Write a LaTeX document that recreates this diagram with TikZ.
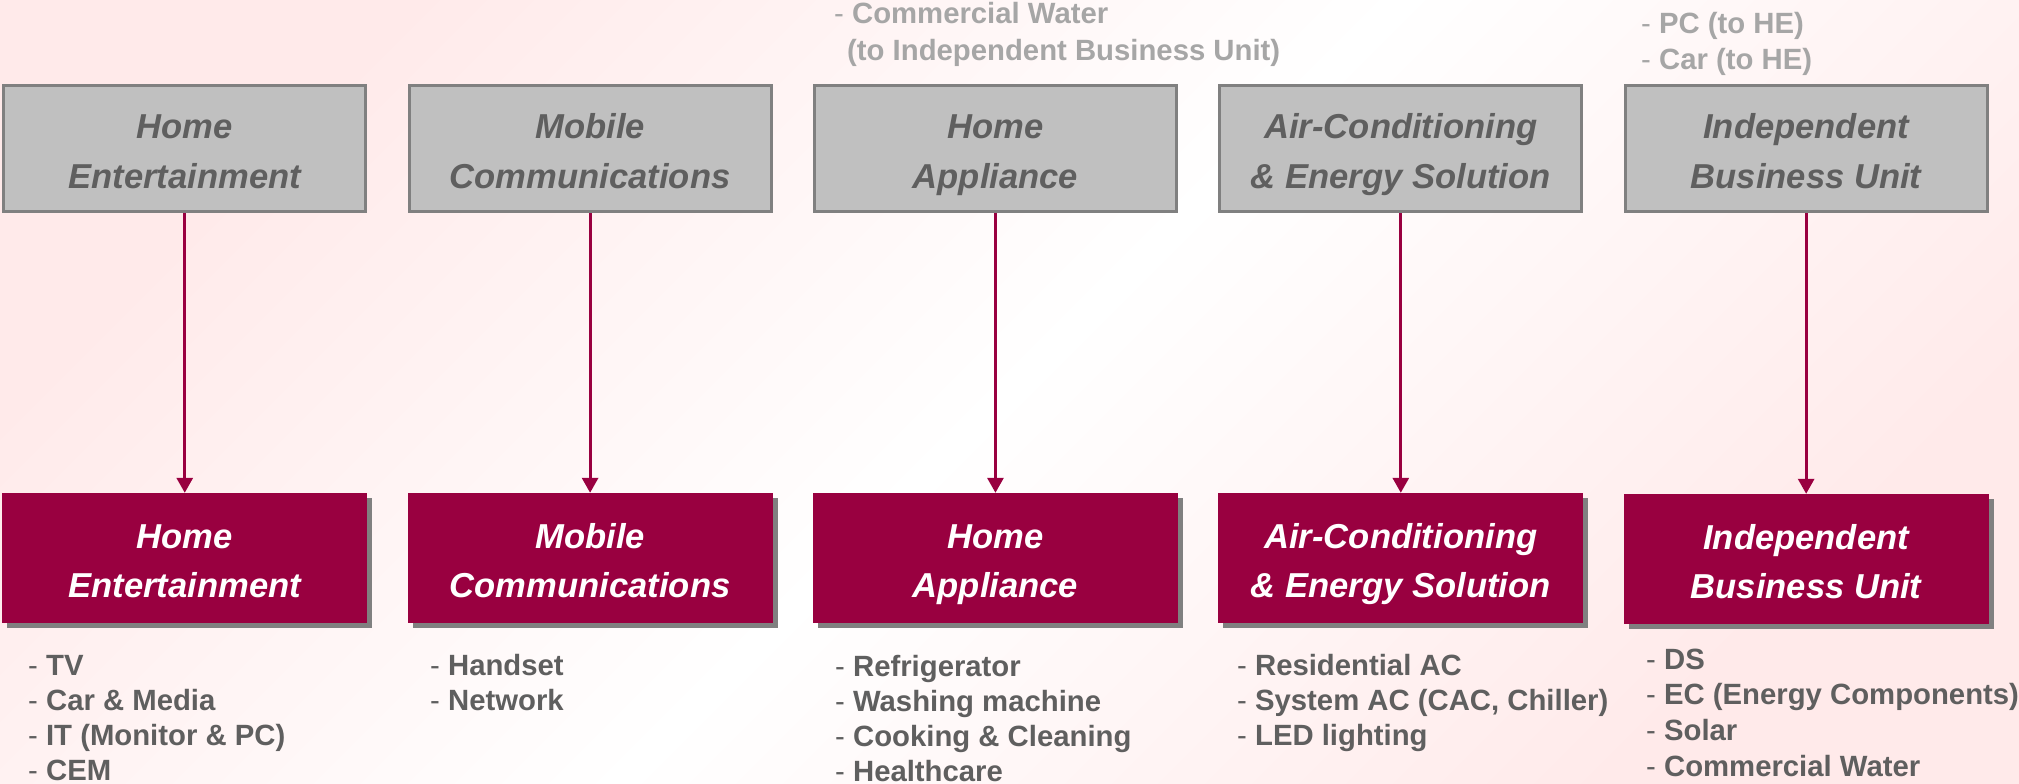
\documentclass[tikz,border=0pt]{standalone}
\usepackage{fontspec}
\setmainfont{Liberation Sans}
\usetikzlibrary{shadows,arrows.meta}
\definecolor{crim}{RGB}{153,0,64}
\definecolor{boxgray}{RGB}{192,192,192}
\definecolor{bordergray}{RGB}{128,128,128}
\definecolor{txtgray}{RGB}{95,95,95}
\definecolor{notegray}{RGB}{166,166,166}
\definecolor{bgpink}{RGB}{255,234,234}
\newcommand\hstrut{\rule{0pt}{37.5pt}}
\newcommand\dstrut{\rule[-8pt]{0pt}{8pt}}
\newcommand\twolines[2]{\hstrut#1\\#2\dstrut}
\begin{document}
\begin{tikzpicture}[x=1pt,y=-1pt,
  topbox/.style={draw=bordergray, line width=3pt, fill=boxgray, minimum width=362pt, minimum height=126pt, inner sep=0pt, align=center, text=txtgray, font=\fontsize{34.6}{50}\selectfont\bfseries\itshape},
  botbox/.style={fill=crim, minimum width=365pt, minimum height=130pt, inner sep=0pt, align=center, text=white, font=\fontsize{34.6}{49}\selectfont\bfseries\itshape, drop shadow={shadow xshift=5pt, shadow yshift=-5pt, fill=bordergray, opacity=1}},
  conn/.style={draw=crim, line width=3pt, -{Triangle[length=15pt,width=16pt]}},
  item/.style={anchor=base west, inner sep=0pt, text=txtgray, font=\fontsize{29.3}{35}\selectfont},
  note/.style={item, text=notegray}
]
\useasboundingbox (0,0) rectangle (2019,784);
\shade[top color=bgpink, bottom color=bgpink, middle color=white, shading angle=45] (0,0) rectangle (2019,784);

% top boxes
\node[topbox] (t1) at (184.75,148.5) {\twolines{Home}{Entertainment}};
\node[topbox] (t2) at (590.1,148.5) {\twolines{Mobile}{Communications}};
\node[topbox] (t3) at (995.45,148.5) {\twolines{Home}{Appliance}};
\node[topbox] (t4) at (1400.8,148.5) {\twolines{Air-Conditioning}{\& Energy Solution}};
\node[topbox] (t5) at (1806.15,148.5) {\twolines{Independent}{Business Unit}};

% bottom boxes
\node[botbox] (b1) at (184.75,558) {\twolines{Home}{Entertainment}};
\node[botbox] (b2) at (590.1,558) {\twolines{Mobile}{Communications}};
\node[botbox] (b3) at (995.45,558) {\twolines{Home}{Appliance}};
\node[botbox] (b4) at (1400.8,558) {\twolines{Air-Conditioning}{\& Energy Solution}};
\node[botbox] (b5) at (1806.15,559) {\twolines{Independent}{Business Unit}};

% connectors
\draw[conn] (t1.south) -- (b1.north);
\draw[conn] (t2.south) -- (b2.north);
\draw[conn] (t3.south) -- (b3.north);
\draw[conn] (t4.south) -- (b4.north);
\draw[conn] (t5.south) -- (b5.north);

% notes above
\node[note] (n1) at (834,24) {- \textbf{Commercial Water}};
\node[note] (n2) at (847,61) {\textbf{(to Independent Business Unit)}};
\node[note] (n3) at (1641,34) {- \textbf{PC (to HE)}};
\node[note] (n4) at (1641,70) {- \textbf{Car (to HE)}};

% lists
\node[item] (l11) at (28,675) {- \textbf{TV}};
\node[item] (l12) at (28,710) {- \textbf{Car \& Media}};
\node[item] (l13) at (28,745) {- \textbf{IT (Monitor \& PC)}};
\node[item] (l14) at (28,780) {- \textbf{CEM}};

\node[item] (l21) at (430,675) {- \textbf{Handset}};
\node[item] (l22) at (430,710) {- \textbf{Network}};

\node[item] (l31) at (835,676) {- \textbf{Refrigerator}};
\node[item] (l32) at (835,711) {- \textbf{Washing machine}};
\node[item] (l33) at (835,746) {- \textbf{Cooking \& Cleaning}};
\node[item] (l34) at (835,781) {- \textbf{Healthcare}};

\node[item] (l41) at (1237,675) {- \textbf{Residential AC}};
\node[item] (l42) at (1237,710) {- \textbf{System AC (CAC, Chiller)}};
\node[item] (l43) at (1237,745) {- \textbf{LED lighting}};

\node[item] (l51) at (1646,669) {- \textbf{DS}};
\node[item] (l52) at (1646,704) {- \textbf{EC (Energy Components)}};
\node[item] (l53) at (1646,740) {- \textbf{Solar}};
\node[item] (l54) at (1646,776) {- \textbf{Commercial Water}};
\end{tikzpicture}
\end{document}
